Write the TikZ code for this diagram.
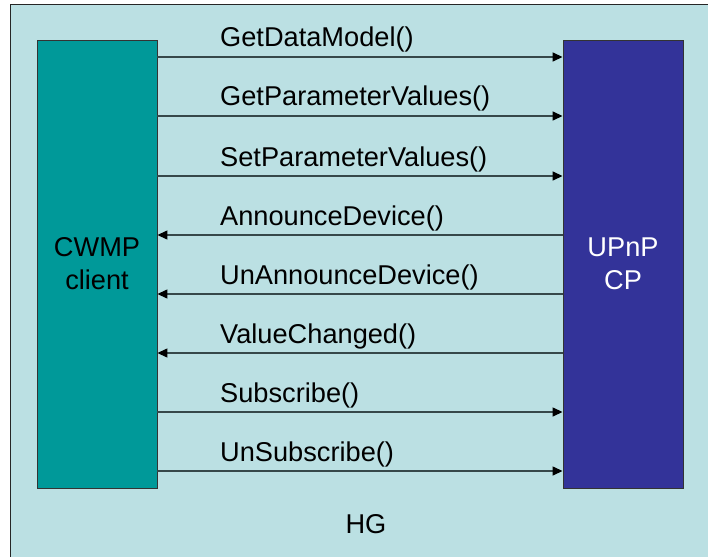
\documentclass[tikz,border=0pt]{standalone}
\usepackage{fontspec}
\setmainfont{Liberation Sans}
\usetikzlibrary{arrows.meta}
\definecolor{hgbg}{HTML}{BBE0E3}
\definecolor{cwmpfill}{HTML}{009999}
\definecolor{upnpfill}{HTML}{333399}
\definecolor{wire}{HTML}{36484A}
\tikzset{
  txt/.style={font=\fontsize{27.2}{33}\selectfont},
  lbl/.style={txt, anchor=base west, inner sep=0pt},
  block/.style={txt, draw=black!80, line width=0.9pt, minimum width=120pt, minimum height=448pt,
    align=center, inner sep=0pt},
  msg/.style={draw=wire, line width=1.4pt, -{Triangle[length=10pt,width=9pt,color=black]}}
}
\begin{document}
\begin{tikzpicture}[x=1pt,y=-1pt]
  \useasboundingbox (0,0) rectangle (708,556);
  \clip (0,0) rectangle (708,556);
  % home gateway frame, running off the right and bottom edges
  \draw[fill=hgbg, draw=black!85, line width=1pt] (10.5,5) rectangle (730,580);
  \node[txt] (hg) at (366,524) {HG};

  \node[block, fill=cwmpfill, text=black] (cwmp) at (97,264) {CWMP\\client};
  \node[block, fill=upnpfill, text=white] (upnp) at (623,264) {UPnP\\CP};

  % message rows
  \coordinate (r1) at (0,57);
  \coordinate (r2) at (0,116);
  \coordinate (r3) at (0,176);
  \coordinate (r4) at (0,235);
  \coordinate (r5) at (0,294);
  \coordinate (r6) at (0,353);
  \coordinate (r7) at (0,412);
  \coordinate (r8) at (0,471);

  \draw[msg] (cwmp.east |- r1) -- (upnp.west |- r1);
  \draw[msg] (cwmp.east |- r2) -- (upnp.west |- r2);
  \draw[msg] (cwmp.east |- r3) -- (upnp.west |- r3);
  \draw[msg] (upnp.west |- r4) -- (cwmp.east |- r4);
  \draw[msg] (upnp.west |- r5) -- (cwmp.east |- r5);
  \draw[msg] (upnp.west |- r6) -- (cwmp.east |- r6);
  \draw[msg] (cwmp.east |- r7) -- (upnp.west |- r7);
  \draw[msg] (cwmp.east |- r8) -- (upnp.west |- r8);

  \node[lbl] (l1) at (220,47)  {GetDataModel()};
  \node[lbl] (l2) at (220,106) {GetParameterValues()};
  \node[lbl] (l3) at (220,166) {SetParameterValues()};
  \node[lbl] (l4) at (220,225) {AnnounceDevice()};
  \node[lbl] (l5) at (220,284) {UnAnnounceDevice()};
  \node[lbl] (l6) at (220,343) {ValueChanged()};
  \node[lbl] (l7) at (220,402) {Subscribe()};
  \node[lbl] (l8) at (220,461) {UnSubscribe()};
\end{tikzpicture}
\end{document}
